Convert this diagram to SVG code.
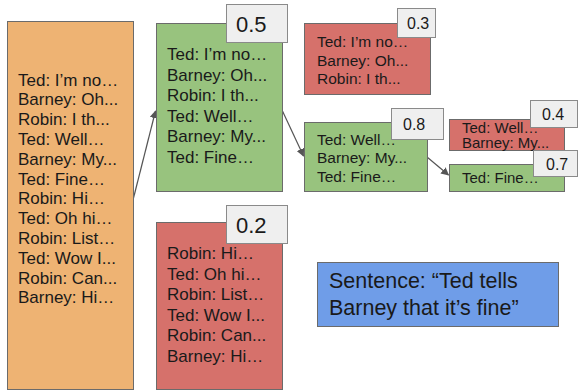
<svg xmlns="http://www.w3.org/2000/svg" width="579" height="391" viewBox="0 0 579 391">
<defs>
<style>
.t{font-family:"Liberation Sans",Arial,sans-serif;fill:#1a1a1a}
.big{font-size:17px}
.mid{font-size:15.5px}
.sm{font-size:15px}
.box{stroke:#6b6b6b;stroke-width:1}
.org{fill:#eeb373}
.grn{fill:#98c37e}
.red{fill:#d6716b}
.blu{fill:#6f9de8}
.lbl{fill:#efefef;stroke:#8a8a8a;stroke-width:1}
.lt{font-size:22px}
.ls{font-size:16px}
.edge{stroke:#555;stroke-width:1.2;fill:none;marker-end:url(#ah)}
</style>
<marker id="ah" viewBox="0 0 10 10" refX="9" refY="5" markerWidth="8" markerHeight="8" markerUnits="userSpaceOnUse" orient="auto">
<path d="M0,0 L10,5 L0,10 z" fill="#555"/>
</marker>
</defs>
<rect width="579" height="391" fill="#ffffff"/>
<g id="connectors">
<line class="edge" x1="133" y1="200" x2="155.5" y2="111"/>
<line class="edge" x1="282" y1="110" x2="303.5" y2="156"/>
<line class="edge" x1="427" y1="157" x2="448.5" y2="175"/>
</g>
<g id="root">
<rect class="box org" x="7.5" y="21.5" width="126" height="368"/>
<text class="t big" x="18">
<tspan x="18" y="85.5">Ted: I’m no…</tspan>
<tspan x="18" y="105.3">Barney: Oh...</tspan>
<tspan x="18" y="125.1">Robin: I th...</tspan>
<tspan x="18" y="144.9">Ted: Well…</tspan>
<tspan x="18" y="164.7">Barney: My...</tspan>
<tspan x="18" y="184.5">Ted: Fine…</tspan>
<tspan x="18" y="204.3">Robin: Hi…</tspan>
<tspan x="18" y="224.1">Ted: Oh hi…</tspan>
<tspan x="18" y="243.9">Robin: List…</tspan>
<tspan x="18" y="263.7">Ted: Wow I...</tspan>
<tspan x="18" y="283.5">Robin: Can...</tspan>
<tspan x="18" y="303.3">Barney: Hi…</tspan>
</text>
</g>
<g id="n05">
<rect class="box grn" x="156.5" y="23.5" width="126" height="168"/>
<text class="t big">
<tspan x="167" y="60">Ted: I’m no…</tspan>
<tspan x="167" y="80.5">Barney: Oh...</tspan>
<tspan x="167" y="101">Robin: I th...</tspan>
<tspan x="167" y="121.5">Ted: Well…</tspan>
<tspan x="167" y="142">Barney: My...</tspan>
<tspan x="167" y="162.5">Ted: Fine…</tspan>
</text>
<rect class="lbl" x="226.5" y="4.5" width="61" height="38"/>
<text class="t lt" x="236" y="32">0.5</text>
</g>
<g id="n02">
<rect class="box red" x="156.5" y="222.5" width="126" height="167"/>
<text class="t big">
<tspan x="167" y="259">Robin: Hi…</tspan>
<tspan x="167" y="279.5">Ted: Oh hi…</tspan>
<tspan x="167" y="300">Robin: List…</tspan>
<tspan x="167" y="320.5">Ted: Wow I...</tspan>
<tspan x="167" y="341">Robin: Can...</tspan>
<tspan x="167" y="361.5">Barney: Hi…</tspan>
</text>
<rect class="lbl" x="226.5" y="205.5" width="61" height="38"/>
<text class="t lt" x="236" y="233">0.2</text>
</g>
<g id="n03">
<rect class="box red" x="304.5" y="23.5" width="126" height="71"/>
<text class="t mid">
<tspan x="317" y="47">Ted: I’m no…</tspan>
<tspan x="317" y="65.5">Barney: Oh...</tspan>
<tspan x="317" y="84">Robin: I th...</tspan>
</text>
<rect class="lbl" x="397.5" y="8.5" width="38" height="29"/>
<text class="t ls" x="407" y="29">0.3</text>
</g>
<g id="n08">
<rect class="box grn" x="304.5" y="122.5" width="123" height="69"/>
<text class="t mid">
<tspan x="317" y="144.5">Ted: Well…</tspan>
<tspan x="317" y="163">Barney: My...</tspan>
<tspan x="317" y="181.5">Ted: Fine…</tspan>
</text>
<rect class="lbl" x="391.5" y="108.5" width="52" height="31"/>
<text class="t ls" x="403" y="130">0.8</text>
</g>
<g id="n04">
<rect class="box red" x="449.5" y="119.5" width="115" height="31"/>
<text class="t sm">
<tspan x="462" y="132.5">Ted: Well…</tspan>
<tspan x="462" y="148">Barney: My...</tspan>
</text>
<rect class="lbl" x="530.5" y="100.5" width="47" height="27"/>
<text class="t ls" x="542" y="120">0.4</text>
</g>
<g id="n07">
<rect class="box grn" x="449.5" y="164.5" width="115" height="27"/>
<text class="t sm" x="462" y="183">Ted: Fine…</text>
<rect class="lbl" x="533.5" y="150.5" width="44" height="26"/>
<text class="t ls" x="546" y="170">0.7</text>
</g>
<g id="sentence">
<rect class="box blu" x="317.5" y="262.5" width="241" height="64"/>
<text class="t" style="font-size:21.5px">
<tspan x="329" y="288">Sentence: “Ted tells</tspan>
<tspan x="329" y="315">Barney that it’s fine”</tspan>
</text>
</g>
</svg>
